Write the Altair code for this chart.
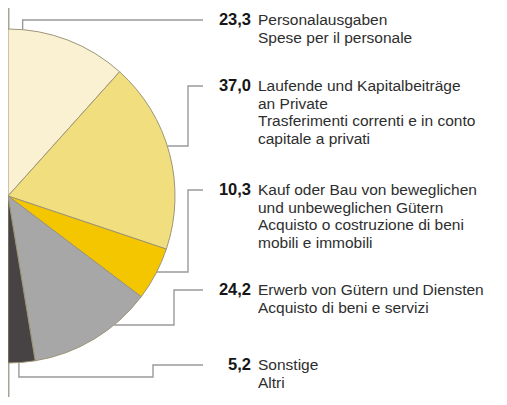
import math
import altair as alt
import pandas as pd

# ---- data ----
values = [23.3, 37.0, 10.3, 24.2, 5.2]
value_labels = ["23,3", "37,0", "10,3", "24,2", "5,2"]
label_lines = [
    ["Personalausgaben", "Spese per il personale"],
    ["Laufende und Kapitalbeiträge", "an Private", "Trasferimenti correnti e in conto", "capitale a privati"],
    ["Kauf oder Bau von beweglichen", "und unbeweglichen Gütern", "Acquisto o costruzione di beni", "mobili e immobili"],
    ["Erwerb von Gütern und Diensten", "Acquisto di beni e servizi"],
    ["Sonstige", "Altri"],
]
colors = ["#FAF1D3", "#F1DE7E", "#F3C600", "#A7A7A7", "#474344"]

# ---- layout (pixels of the plot area) ----
W, H = 491, 389
CX, CY, R = 0, 188, 167
line_y = [12, 78, 182, 282, 357]          # level of leader / first text line
elbow_x = [None, 180, 180, 166, 145]
leader_end_x = 195
anchor_frac = [0.12, 0.46, 0.46, 0.31, 0.6]
bottom_y = 369
value_x = 243
label_x = 250
FS = 15.5
LH = 17.6

xs = alt.Scale(domain=[0, W], nice=False, zero=False)
ys = alt.Scale(domain=[0, H], nice=False, zero=False, reverse=True)

# pie data
pie_df = pd.DataFrame({
    "value": values,
    "idx": list(range(len(values))),
    "color": colors,
    "cx": [CX] * len(values),
    "cy": [CY] * len(values),
})

total = sum(values)
cum = [0.0]
for v in values:
    cum.append(cum[-1] + v)

# leader paths derived from slice angles
rows = []
for i in range(len(values)):
    s = cum[i] / total * math.pi
    e = cum[i + 1] / total * math.pi
    a = s + anchor_frac[i] * (e - s)
    ax = CX + R * math.sin(a)
    ay = CY - R * math.cos(a)
    ly = line_y[i]
    if elbow_x[i] is None:
        pts = [(ax, ay), (ax, ly), (leader_end_x, ly)]
    elif i == len(values) - 1:
        ex = elbow_x[i]
        pts = [(ax, ay), (ax, bottom_y), (ex, bottom_y), (ex, ly), (leader_end_x, ly)]
    else:
        ex = elbow_x[i]
        pts = [(ax, ay), (ex, ay), (ex, ly), (leader_end_x, ly)]
    for k, (px, py) in enumerate(pts):
        rows.append({"s": i, "k": k, "x": px, "y": py})
lead_df = pd.DataFrame(rows)

text_df = pd.DataFrame({
    "vx": [value_x] * len(values),
    "lx": [label_x] * len(values),
    "y": [ly + 5 for ly in line_y],
    "val": value_labels,
    "lab": ["\n".join(l) for l in label_lines],
})

pie = alt.Chart(pie_df).mark_arc(outerRadius=R, stroke="#9d9577", strokeWidth=1).encode(
    theta=alt.Theta("value:Q", stack=True, scale=alt.Scale(domain=[0, total], range=[0, math.pi])),
    order=alt.Order("idx:Q"),
    color=alt.Color("color:N", scale=None),
    x=alt.X("cx:Q", scale=xs, axis=None),
    y=alt.Y("cy:Q", scale=ys, axis=None),
)

leaders = alt.Chart(lead_df).mark_line(color="#9a9a9a", strokeWidth=1.4).encode(
    x=alt.X("x:Q", scale=xs, axis=None),
    y=alt.Y("y:Q", scale=ys, axis=None),
    detail="s:N",
    order=alt.Order("k:Q"),
)

frame = alt.Chart(pd.DataFrame({"x": [0.75], "y0": [0], "y1": [H]})).mark_rule(
    color="#a8a397", strokeWidth=1.5
).encode(
    x=alt.X("x:Q", scale=xs, axis=None),
    y=alt.Y("y0:Q", scale=ys, axis=None),
    y2="y1:Q",
)

vals = alt.Chart(text_df).mark_text(
    align="right", baseline="alphabetic", font="Liberation Sans", fontSize=16.5,
    fontWeight="bold", color="#161616",
).encode(
    x=alt.X("vx:Q", scale=xs, axis=None),
    y=alt.Y("y:Q", scale=ys, axis=None),
    text="val:N",
)

labs = alt.Chart(text_df).mark_text(
    align="left", baseline="alphabetic", font="Liberation Sans", fontSize=FS,
    color="#2e2e2e", lineBreak="\n", lineHeight=LH,
).encode(
    x=alt.X("lx:Q", scale=xs, axis=None),
    y=alt.Y("y:Q", scale=ys, axis=None),
    text="lab:N",
)

chart = alt.layer(frame, pie, leaders, vals, labs).properties(
    width=W, height=H, padding=0, autosize=alt.AutoSizeParams(type="none"),
    background="white",
).configure_view(stroke=None)

chart.save("out.html", embed_options={"renderer": "svg", "actions": False})
